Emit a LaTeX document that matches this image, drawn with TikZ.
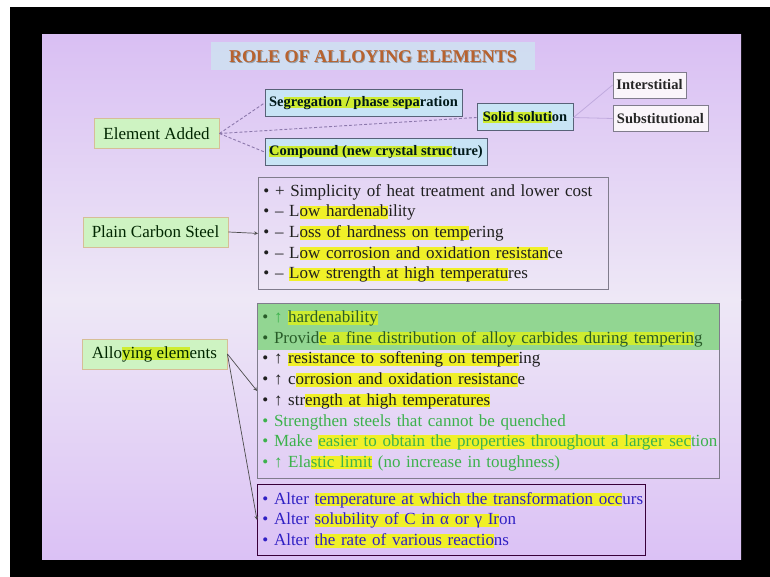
\documentclass[tikz,border=0pt]{standalone}
\usepackage{fontspec}
\setmainfont{Liberation Serif}
\usepackage{xcolor}
\usepackage{tikz}
\usetikzlibrary{arrows,calc}

\definecolor{slidetop}{RGB}{217,191,243}
\definecolor{slidemid}{RGB}{238,232,246}
\definecolor{slidebot}{RGB}{219,193,245}
\definecolor{titlefill}{RGB}{207,224,241}
\definecolor{titletext}{RGB}{184,98,46}
\definecolor{greenfill}{RGB}{206,243,194}
\definecolor{tanline}{RGB}{214,190,150}
\definecolor{bluefill}{RGB}{200,228,245}
\definecolor{slateline}{RGB}{88,98,120}
\definecolor{grayline}{RGB}{128,124,140}
\definecolor{dashcol}{RGB}{140,120,172}
\definecolor{lilac}{RGB}{192,170,222}
\definecolor{bandgreen}{RGB}{146,214,146}
\definecolor{textgreen}{RGB}{60,178,76}
\definecolor{darkgreen}{RGB}{40,92,40}
\definecolor{textblue}{RGB}{48,32,196}
\definecolor{hlyel}{RGB}{240,240,40}
\definecolor{hllime}{RGB}{206,236,48}

\newcommand\bodysize{\fontsize{17}{20.7}\selectfont}
\newcommand\boxsize{\fontsize{14.5}{17}\selectfont}
\newcommand\titlesize{\fontsize{18}{21}\selectfont}
% marker pen behind a piece of text
\newsavebox\hlbox
\newcommand\hlt[2][hlyel]{\sbox\hlbox{#2}\rlap{\color{#1}\rule[-0.12em]{\wd\hlbox}{0.78em}}\usebox\hlbox}

\begin{document}
\begin{tikzpicture}[x=1pt,y=-1pt,
  greenbox/.style={draw=tanline,fill=greenfill,line width=0.8pt,inner sep=0pt,minimum height=30pt,font=\bodysize,text=black!85!green},
  bluebox/.style={draw=slateline,fill=bluefill,line width=1pt,inner sep=0pt,minimum height=27pt,font=\boxsize\bfseries,text=black!80!teal},
  whitebox/.style={draw=grayline,fill=white!96!violet,line width=0.8pt,inner sep=0pt,minimum height=26pt,font=\boxsize\bfseries,text=black!85},
  listbox/.style={draw=grayline,line width=0.8pt,align=left,anchor=north west,inner xsep=5pt,inner ysep=0pt,font=\bodysize,text=black!88},
  dashlink/.style={draw=dashcol,line width=0.9pt,dash pattern=on 3pt off 2pt},
  thinlink/.style={draw=lilac,line width=0.8pt},
  pointer/.style={draw=black!70,line width=0.7pt,-stealth}]
\useasboundingbox (0,0) rectangle (770,577);
\fill[white] (0,0) rectangle (770,577);
\fill[black] (10,7) rectangle (770,577);
\shade[top color=slidetop,bottom color=slidemid] (42,35) rectangle (741,300);
\shade[top color=slidemid,bottom color=slidebot] (42,299.5) rectangle (741,559);

% title
\node[fill=titlefill,fill opacity=0.9,minimum width=324pt,minimum height=28pt] (titlebox) at (373,56) {};
\node[font=\titlesize\bfseries,text=black!30!titlefill] (titleshadow) at (373.9,57.9) {ROLE OF ALLOYING ELEMENTS};
\node[font=\titlesize\bfseries,text=titletext] (title) at (373,57) {ROLE OF ALLOYING ELEMENTS};

% element added
\node[greenbox,minimum width=125pt] (added) at (156.5,133.5) {Element Added};
\node[bluebox,minimum width=197pt] (seg) at (363.5,103) {Se\hlt[hllime]{gregation / phase sepa}ration};
\node[bluebox,minimum width=96pt] (solid) at (525,117.5) {\hlt[hllime]{Solid soluti}on};
\node[bluebox,minimum width=222pt] (comp) at (376,152) {\hlt[hllime]{Compound (new crystal struc}ture)};
\node[whitebox,minimum width=73pt] (inter) at (649.5,85) {Interstitial};
\node[whitebox,minimum width=95pt] (subst) at (660.5,118.5) {Substitutional};
\draw[dashlink] (added.east) -- (seg.west);
\draw[dashlink] (added.east) -- (solid.west);
\draw[dashlink] (added.east) -- (comp.west);
\draw[thinlink] (solid.east) -- (inter.west);
\draw[thinlink] (solid.east) -- (subst.west);

% plain carbon steel
\node[greenbox,minimum width=145pt] (plain) at (155.5,232) {Plain Carbon Steel};
\node[listbox,text width=340pt,minimum height=112pt] (pluslist) at (258,177) {%
• + Simplicity of heat treatment and lower cost\\
• – L\hlt{ow hardenab}ility\\
• – L\hlt{oss of hardness on temp}ering\\
• – L\hlt{ow corrosion and oxidation resistan}ce\\
• – \hlt{Low strength at high temperatu}res};
\draw[pointer] (plain.east) -- (pluslist.west);

% alloying elements
\node[greenbox,minimum width=145pt] (alloying) at (154.5,354) {Allo\hlt[hllime]{ying elem}ents};
\node[listbox,text width=452pt,minimum height=175pt,
  path picture={\fill[bandgreen] (path picture bounding box.north west) rectangle ([yshift=-47pt]path picture bounding box.north east);}]
  (effects) at (257,303) {%
{\color{darkgreen}• \textcolor{textgreen}{↑} \hlt[hllime]{hardenability}}\\
{\color{darkgreen}• Provid\hlt[hllime]{e a fine distribution of alloy carbides during temperin}g}\\
• ↑ \hlt{resistance to softening on temper}ing\\
• ↑ c\hlt{orrosion and oxidation resistanc}e\\
• ↑ str\hlt{ength at high temperatures}\\
{\color{textgreen}• Strengthen steels that cannot be quenched}\\
{\color{textgreen}• Make \hlt{easier to obtain the properties throughout a larger sec}tion}\\
{\color{textgreen}• ↑ Ela\hlt{stic limit} (no increase in toughness)}};
\node[listbox,draw=black!55!violet,text width=378pt,minimum height=71pt,text=textblue] (kinetics) at (257,484) {%
• Alter \hlt{temperature at which the transformation occ}urs\\
• Alter \hlt{solubility of C in α or γ Ir}on\\
• Alter \hlt{the rate of various reactio}ns};
\draw[pointer] (alloying.east) -- (effects.west);
\draw[pointer] (alloying.east) -- (kinetics.west);
\end{tikzpicture}
\end{document}
